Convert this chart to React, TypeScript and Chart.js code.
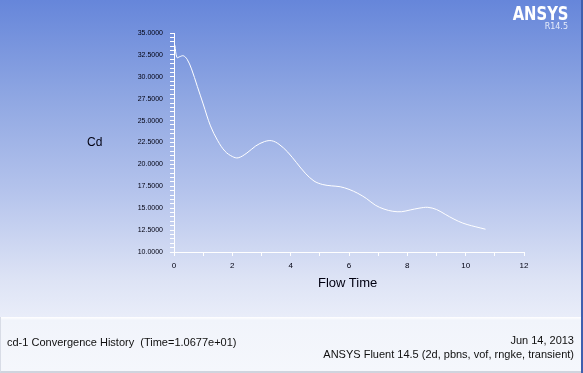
import React, { useEffect, useRef } from "react";
import { Chart, registerables } from "chart.js";

Chart.register(...registerables);

const flowTime = [0.03, 0.1, 0.2, 0.32, 0.45, 0.6, 0.8, 1.0, 1.25, 1.5, 1.75, 2.0, 2.2, 2.5, 2.8, 3.1, 3.35, 3.6, 3.9, 4.2, 4.5, 4.8, 5.1, 5.4, 5.7, 6.0, 6.3, 6.6, 6.9, 7.2, 7.5, 7.8, 8.1, 8.4, 8.7, 9.0, 9.3, 9.6, 9.9, 10.2, 10.5, 10.68];
const cdValues = [33.6, 32.2, 32.3, 32.4, 32.0, 30.9, 28.9, 26.9, 24.4, 22.7, 21.5, 20.9, 20.75, 21.3, 22.1, 22.6, 22.7, 22.3, 21.4, 20.2, 19.0, 18.1, 17.7, 17.55, 17.45, 17.15, 16.7, 16.1, 15.35, 14.9, 14.65, 14.6, 14.8, 15.0, 15.1, 14.85, 14.3, 13.75, 13.3, 13.0, 12.75, 12.6];

const yMin = 10;
const yMax = 35;
const yMajorStep = 2.5;
const yMinorStep = 0.5;
const xMin = 0;
const xMax = 12;
const xMajorStep = 2;
const xMinorStep = 1;

const FONT = "'Liberation Sans', Arial, sans-serif";

export default function App() {
  const ref = useRef<HTMLCanvasElement | null>(null);

  useEffect(() => {
    if (!ref.current) return;
    const chart = new Chart(ref.current, {
      type: "line",
      data: {
        datasets: [
          {
            data: flowTime.map((x, i) => ({ x, y: cdValues[i] })),
            borderColor: "#ffffff",
            borderWidth: 1,
            pointRadius: 0,
            tension: 0.35,
            fill: false,
          },
        ],
      },
      options: {
        animation: false,
        responsive: false,
        maintainAspectRatio: false,
        layout: { padding: { top: 33, right: 59, left: 0, bottom: 0 } },
        plugins: { legend: { display: false }, tooltip: { enabled: false } },
        scales: {
          x: {
            type: "linear",
            min: xMin,
            max: xMax,
            afterFit: (s: any) => {
              s.height = 121;
            },
            ticks: {
              stepSize: xMinorStep,
              autoSkip: false,
              maxRotation: 0,
              padding: 5,
              color: "#000010",
              font: { family: FONT, size: 8 },
              callback: (v: any) => (Number(v) % xMajorStep === 0 ? String(v) : ""),
            },
            grid: {
              drawOnChartArea: false,
              drawTicks: true,
              tickLength: 4,
              color: "#ffffff",
            },
            border: { color: "#ffffff", width: 1 },
          },
          y: {
            type: "linear",
            min: yMin,
            max: yMax,
            afterFit: (s: any) => {
              s.width = 174;
            },
            ticks: {
              stepSize: yMinorStep,
              maxTicksLimit: 100,
              autoSkip: false,
              padding: 7,
              color: "#000010",
              font: { family: FONT, size: 7 },
              callback: (v: any) => (Math.abs(Number(v) / yMajorStep - Math.round(Number(v) / yMajorStep)) < 1e-6 ? Number(v).toFixed(4) : ""),
            },
            grid: {
              drawOnChartArea: false,
              drawTicks: true,
              tickLength: 4,
              color: "#ffffff",
            },
            border: { color: "#ffffff", width: 1 },
          },
        },
      },
    });
    return () => chart.destroy();
  }, []);

  return (
    <div
      style={{
        position: "absolute",
        left: 0,
        top: 0,
        width: 583,
        height: 373,
        overflow: "hidden",
        fontFamily: FONT,
        background: "#f3f5fc",
      }}
    >
      <div
        style={{
          position: "absolute",
          left: 0,
          top: 0,
          width: 583,
          height: 317,
          background: "linear-gradient(to bottom, #6686da 0%, #8ea6e2 30%, #b4c3ec 60%, #dde3f5 88%, #e9edf9 100%)",
        }}
      />
      <div
        style={{
          position: "absolute",
          left: 0,
          top: 317,
          width: 583,
          height: 56,
          background: "linear-gradient(to bottom, #ffffff 0%, #f1f4fb 6%, #f5f7fc 100%)",
          borderLeft: "1px solid #d8dce6",
          boxSizing: "border-box",
          borderBottom: "2px solid #d0d4de",
        }}
      />
      <div style={{ position: "absolute", right: 0, top: 0, width: 2, height: 373, background: "#3f5fae" }} />
      <canvas ref={ref} width={583} height={373} style={{ position: "absolute", left: 0, top: 0 }} />
      <div style={{ position: "absolute", left: 87, top: 135, fontSize: 12, color: "#000010" }}>Cd</div>
      <div style={{ position: "absolute", left: 318, top: 275, fontSize: 13, color: "#000010" }}>Flow Time</div>
      <div
        style={{
          position: "absolute",
          right: 14,
          top: 1,
          fontSize: 20,
          fontWeight: "bold",
          color: "#ffffff",
          fontFamily: "'DejaVu Sans', sans-serif",
          transform: "scaleX(0.74)",
          transformOrigin: "right top",
          whiteSpace: "pre",
        }}
      >
        ANSYS
      </div>
      <div style={{ position: "absolute", right: 15, top: 22, fontSize: 8, color: "#e6ecfa", fontFamily: "'DejaVu Sans', sans-serif" }}>R14.5</div>
      <div style={{ position: "absolute", left: 7, top: 336, fontSize: 11, color: "#101010", whiteSpace: "pre" }}>cd-1 Convergence History  (Time=1.0677e+01)</div>
      <div style={{ position: "absolute", right: 9, top: 334, fontSize: 11, color: "#101010", textAlign: "right" }}>Jun 14, 2013</div>
      <div style={{ position: "absolute", right: 9, top: 348, fontSize: 11, color: "#101010", textAlign: "right", whiteSpace: "pre" }}>ANSYS Fluent 14.5 (2d, pbns, vof, rngke, transient)</div>
    </div>
  );
}
